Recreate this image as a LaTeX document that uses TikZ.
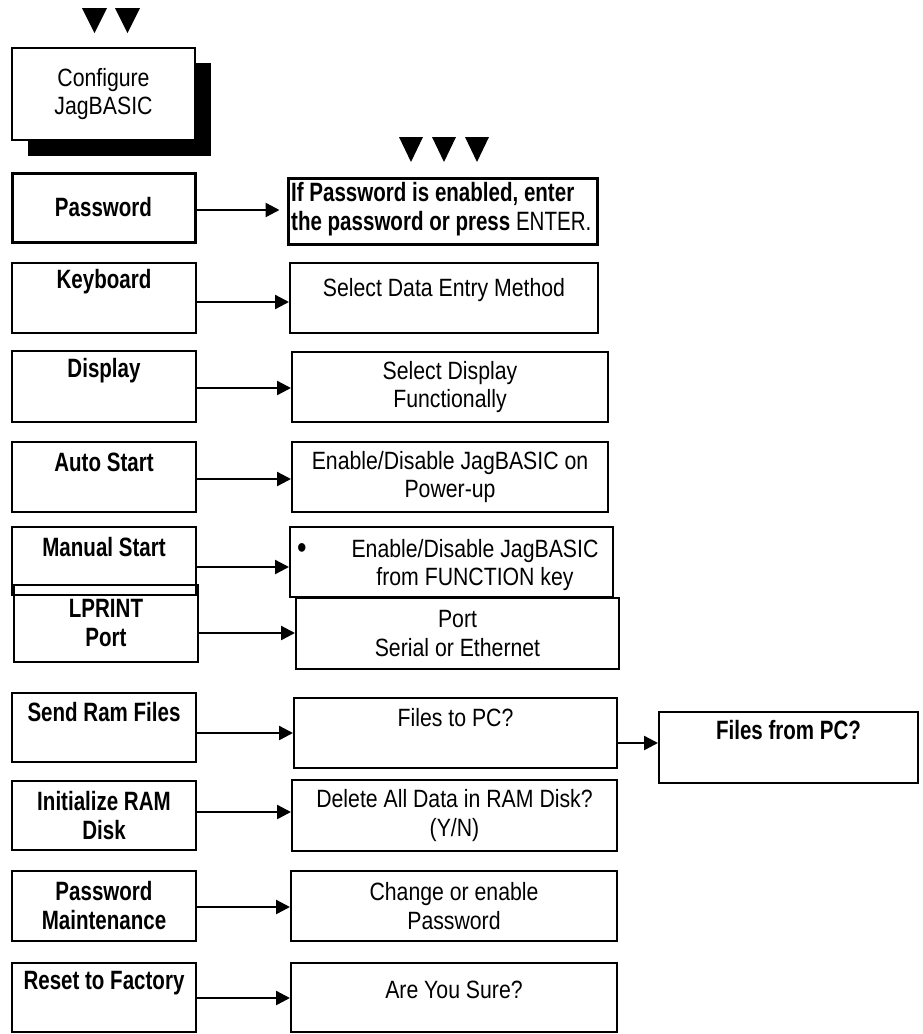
\documentclass[tikz,border=0pt]{standalone}
\usepackage{fontspec}
\setmainfont{Liberation Sans}[FakeStretch=0.85]
\newfontfamily\bfam{Liberation Sans}[FakeStretch=0.775]
\usetikzlibrary{arrows.meta}
\tikzset{
  box/.style={draw, line width=2pt, fill=white, inner sep=0pt},
  thickbox/.style={box, line width=3pt},
  rtxt/.style={font=\fontsize{25}{28.5}\selectfont, align=center, inner sep=0pt},
  btxt/.style={font=\bfam\bfseries\fontsize{26.5}{29}\selectfont, align=center, inner sep=0pt},
  arr/.style={line width=2.4pt, -{Triangle[length=14pt,width=14pt]}},
  tri/.style={fill=black}
}
\begin{document}
\begin{tikzpicture}[x=1pt,y=-1pt]
\useasboundingbox (0,0) rectangle (922,1034);
% top triangles
\fill[tri] (82,8) -- (107,8) -- (94.5,33) -- cycle;
\fill[tri] (115,8) -- (140,8) -- (127.5,33) -- cycle;
\fill[tri] (399,137) -- (423,137) -- (411,162) -- cycle;
\fill[tri] (432,137) -- (456,137) -- (444,162) -- cycle;
\fill[tri] (465,137) -- (489,137) -- (477,162) -- cycle;
% configure box with shadow
\node[fill=black, inner sep=0pt, minimum width=183pt, minimum height=93pt] (cfgsh) at (119.5,109.5) {};
\node[box, minimum width=183pt, minimum height=92pt, rtxt] (cfg) at (103.5,94) {Configure\\JagBASIC};
% left column
\node[thickbox, minimum width=183pt, minimum height=69pt, btxt] (pw) at (103.5,207.5) {Password};
\node[box, minimum width=184pt, minimum height=70pt] (kb) at (104,298) {};
\node[btxt] (kbt) at (104,282) {Keyboard};
\node[box, minimum width=184pt, minimum height=71pt] (dp) at (104,386.5) {};
\node[btxt] (dpt) at (104,371) {Display};
\node[box, minimum width=184pt, minimum height=70pt] (as) at (104,477) {};
\node[btxt] (ast) at (104,462) {Auto Start};
\node[box, minimum width=184pt, minimum height=68pt] (ms) at (104,561) {};
\node[btxt] (mst) at (104,547) {Manual Start};
\node[draw, line width=2pt, inner sep=0pt, minimum width=184pt, minimum height=77pt, btxt] (lp) at (106,623.5) {LPRINT\\Port};
\node[box, minimum width=184pt, minimum height=69pt] (sr) at (104,727.5) {};
\node[btxt] (srt) at (104,712) {Send Ram Files};
\node[box, minimum width=184pt, minimum height=69pt, btxt] (ir) at (104,815.5) {Initialize RAM\\Disk};
\node[box, minimum width=184pt, minimum height=70pt, btxt] (pm) at (104,906) {Password\\Maintenance};
\node[box, minimum width=184pt, minimum height=69pt] (rf) at (104,997) {};
\node[btxt] (rft) at (104,983) {Reset to Factory};
% right column
\node[thickbox, minimum width=309pt, minimum height=66pt] (pwr) at (442.5,211) {};
\node[btxt, align=left, anchor=west] (pwrt) at (291,209) {If Password is enabled, enter\\the password or press {\mdseries ENTER.}};
\node[box, minimum width=308pt, minimum height=70pt] (kbr) at (444,298) {};
\node[rtxt] (kbrt) at (444,290) {Select Data Entry Method};
\node[box, minimum width=316pt, minimum height=70pt, rtxt] (dpr) at (450,387) {Select Display\\Functionally};
\node[box, minimum width=316pt, minimum height=70pt, rtxt] (asr) at (450,477) {Enable/Disable JagBASIC on\\Power-up};
\node[box, minimum width=323pt, minimum height=70pt] (msr) at (451.5,562) {};
\node[inner sep=0pt, font=\fontsize{32}{32}\selectfont] (bul) at (302,551) {•};
\node[rtxt] (msrt) at (475,565) {Enable/Disable JagBASIC\\from FUNCTION key};
\node[box, minimum width=323pt, minimum height=71pt, rtxt] (lpr) at (457.5,633.5) {Port\\Serial or Ethernet};
\node[box, minimum width=323pt, minimum height=70pt] (srr) at (455.5,733) {};
\node[rtxt] (srrt) at (455.5,718) {Files to PC?};
\node[box, minimum width=259pt, minimum height=71pt] (fp) at (788.5,747.5) {};
\node[btxt] (fpt) at (788.5,730) {Files from PC?};
\node[box, minimum width=325pt, minimum height=71pt, rtxt] (irr) at (454.5,815.5) {Delete All Data in RAM Disk?\\(Y/N)};
\node[box, minimum width=326pt, minimum height=70pt, rtxt] (pmr) at (454,906) {Change or enable\\Password};
\node[box, minimum width=326pt, minimum height=69pt] (rfr) at (454,997) {};
\node[rtxt] (rfrt) at (454,990) {Are You Sure?};
% arrows
\draw[arr, shorten >=7pt] (pw.east |- 0,210) -- (pwr.west |- 0,210);
\draw[arr] (kb.east |- 0,302) -- (kbr.west |- 0,302);
\draw[arr] (dp.east |- 0,388) -- (dpr.west |- 0,388);
\draw[arr] (as.east |- 0,479) -- (asr.west |- 0,479);
\draw[arr] (ms.east |- 0,567) -- (msr.west |- 0,567);
\draw[arr] (lp.east |- 0,633) -- (lpr.west |- 0,633);
\draw[arr] (sr.east |- 0,733) -- (srr.west |- 0,733);
\draw[arr] (srr.east |- 0,743) -- (fp.west |- 0,743);
\draw[arr] (ir.east |- 0,812) -- (irr.west |- 0,812);
\draw[arr] (pm.east |- 0,907) -- (pmr.west |- 0,907);
\draw[arr] (rf.east |- 0,998) -- (rfr.west |- 0,998);
\end{tikzpicture}
\end{document}
